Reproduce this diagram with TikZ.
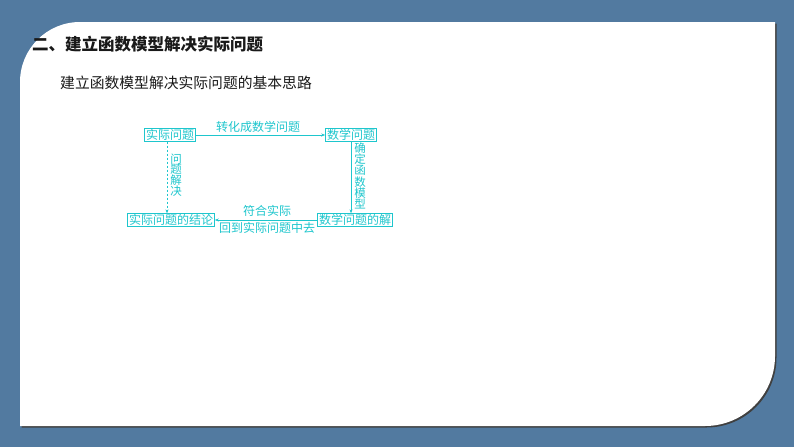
\documentclass[tikz,border=0pt]{standalone}
\usepackage{fontspec}
\newfontfamily\cjk{Noto Sans CJK SC}
\usetikzlibrary{arrows.meta}
\definecolor{slateblue}{RGB}{82,122,160}
\definecolor{flowcyan}{RGB}{30,198,205}
\definecolor{headink}{RGB}{25,25,25}
\newcommand\tightlines{\setlength{\lineskiplimit}{-6pt}}

\begin{document}
\begin{tikzpicture}[x=1pt,y=-1pt,>={Stealth[length=4pt,width=3pt]},
  box/.style={draw=flowcyan, text=flowcyan, line width=0.6pt, inner xsep=1.5pt, inner ysep=0.8pt, font=\cjk\fontsize{12}{13}\selectfont},
  lbl/.style={text=flowcyan, inner sep=1pt, font=\cjk\fontsize{12}{13}\selectfont},
  vlbl/.style={text=flowcyan, inner sep=1pt, align=center, execute at begin node=\tightlines, font=\cjk\fontsize{11.5}{11.2}\selectfont},
  link/.style={->, draw=flowcyan, line width=0.6pt}]

\useasboundingbox (0,0) rectangle (794,447);
\fill[slateblue] (0,0) rectangle (794,447);

% panel with its shadow
\fill[black!75] (21.5,427.5) [rounded corners=60pt] -- (21.5,23.5) [sharp corners] -- (776.5,23.5) [rounded corners=70pt] -- (776.5,427.5) [sharp corners] -- cycle;
\fill[white] (20,426) [rounded corners=60pt] -- (20,22) [sharp corners] -- (775,22) [rounded corners=70pt] -- (775,426) [sharp corners] -- cycle;

% titles
\node[anchor=west, text=headink, inner sep=0pt, font=\cjk\bfseries\fontsize{16.5}{18}\selectfont] (title) at (32,44) {二、建立函数模型解决实际问题};
\node[anchor=west, text=headink, inner sep=0pt, font=\cjk\fontsize{14.8}{16}\selectfont] (sub) at (60,83) {建立函数模型解决实际问题的基本思路};

% boxes
\node[box] (real) at (170,135) {实际问题};
\node[box] (math) at (351,135) {数学问题};
\node[box] (sol) at (355,220) {数学问题的解};
\node[box] (concl) at (171,220) {实际问题的结论};

% connectors
\draw[link] (real) -- (math);
\draw[link] (math) -- (sol.north -| math);
\draw[link] (sol) -- (concl);
\draw[link, dashed, dash pattern=on 2.5pt off 1.5pt] (real.south -| 167,0) -- (concl.north -| 167,0);

% labels
\node[lbl] (toMath) at (258,127) {转化成数学问题};
\node[vlbl] (model) at (360,176) {确\\定\\函\\数\\模\\型};
\node[vlbl, font=\cjk\fontsize{11.5}{10.6}\selectfont] (solve) at (176,175) {问\\题\\解\\决};
\node[lbl] (fit) at (267,211) {符合实际};
\node[lbl] (back) at (267,228) {回到实际问题中去};

\end{tikzpicture}
\end{document}
